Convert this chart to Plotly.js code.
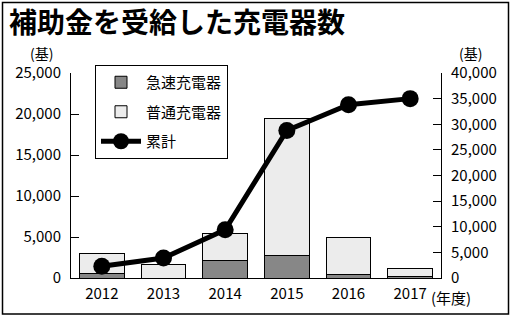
<!DOCTYPE html>
<html>
<head>
<meta charset="utf-8">
<script src="https://cdn.plot.ly/plotly-3.0.1.min.js"></script>
<style>html,body{margin:0;padding:0;background:#fff;}#chart{width:513px;height:316px;}</style>
</head>
<body>
<div id="chart"></div>
<script>
const years = ['2012', '2013', '2014', '2015', '2016', '2017'];
const quickChargers = [600, 0, 2150, 2800, 400, 150];
const normalChargers = [2400, 1600, 3250, 16600, 4550, 1050];
const cumulative = [2300, 3900, 9400, 28800, 33800, 35000];
const leftTicks = [0, 5000, 10000, 15000, 20000, 25000];
const rightTicks = [0, 5000, 10000, 15000, 20000, 25000, 30000, 35000, 40000];

const FONT = '"Noto Sans CJK JP", "Noto Sans", sans-serif';

const traces = [
  {
    type: 'bar', name: '急速充電器', x: years, y: quickChargers,
    marker: {color: '#878787', line: {color: '#000', width: 1}},
    width: 0.72, legendgroup: 'a', hoverinfo: 'skip'
  },
  {
    type: 'bar', name: '普通充電器', x: years, y: normalChargers,
    marker: {color: '#ececec', line: {color: '#000', width: 1}},
    width: 0.72, legendgroup: 'b', hoverinfo: 'skip'
  },
  {
    type: 'scatter', mode: 'lines+markers', name: '累計', x: years, y: cumulative,
    yaxis: 'y2', line: {color: '#000', width: 5},
    marker: {color: '#000', size: 17}, legendgroup: 'c', hoverinfo: 'skip'
  }
];

const layout = {
  width: 513, height: 316,
  margin: {l: 71, r: 72, t: 73, b: 38, pad: 0},
  paper_bgcolor: '#fff', plot_bgcolor: '#fff',
  font: {family: FONT, color: '#000', size: 15},
  barmode: 'stack',
  showlegend: true,
  title: {
    text: '<b>補助金を受給した充電器数</b>',
    font: {family: FONT, size: 28, color: '#000'},
    x: 9 / 513, xanchor: 'left', xref: 'container',
    y: 1 - 23 / 316, yanchor: 'middle', yref: 'container'
  },
  xaxis: {
    type: 'category', range: [-0.5, 5.5],
    showline: true, linecolor: '#000', linewidth: 1,
    ticks: '', showgrid: false, zeroline: false,
    tickfont: {size: 15, family: FONT, color: '#000'},
    ticklabelstandoff: 2
  },
  yaxis: {
    range: [0, 25000], tickvals: leftTicks, tickformat: ',d',
    showline: true, linecolor: '#000', linewidth: 1,
    ticks: 'inside', ticklen: 8, tickcolor: '#000', tickwidth: 1,
    showgrid: false, zeroline: false,
    tickfont: {size: 15, family: FONT, color: '#000'},
    ticklabelstandoff: 6
  },
  yaxis2: {
    range: [0, 40000], tickvals: rightTicks, tickformat: ',d',
    overlaying: 'y', side: 'right',
    showline: true, linecolor: '#000', linewidth: 1,
    ticks: 'inside', ticklen: 8, tickcolor: '#000', tickwidth: 1,
    showgrid: false, zeroline: false,
    tickfont: {size: 15, family: FONT, color: '#000'},
    ticklabelstandoff: 6
  },
  legend: {
    x: (95 - 71) / 370, y: (278 - 65) / 205, xanchor: 'left', yanchor: 'top',
    bgcolor: '#fff', bordercolor: '#000', borderwidth: 1,
    font: {size: 15, family: FONT, color: '#000'},
    traceorder: 'grouped', tracegroupgap: 7, itemwidth: 40
  },
  shapes: [
    {
      type: 'rect', xref: 'paper', yref: 'paper',
      x0: (2.5 - 71) / 370, x1: (508.5 - 71) / 370,
      y0: (278 - 314) / 205, y1: (278 - 2.5) / 205,
      line: {color: '#000', width: 1.5}, fillcolor: 'rgba(0,0,0,0)', layer: 'below'
    }
  ],
  annotations: [
    {text: '(基)', xref: 'paper', yref: 'paper', x: (41 - 71) / 370, y: (278 - 53) / 205,
     xanchor: 'center', yanchor: 'middle', showarrow: false, font: {size: 14, family: FONT, color: '#000'}},
    {text: '(基)', xref: 'paper', yref: 'paper', x: (470 - 71) / 370, y: (278 - 53) / 205,
     xanchor: 'center', yanchor: 'middle', showarrow: false, font: {size: 14, family: FONT, color: '#000'}},
    {text: '(年度)', xref: 'paper', yref: 'paper', x: (451 - 71) / 370, y: (278 - 297) / 205,
     xanchor: 'center', yanchor: 'middle', showarrow: false, font: {size: 15, family: FONT, color: '#000'}}
  ]
};

Plotly.newPlot('chart', traces, layout, {staticPlot: true, displayModeBar: false});
</script>
</body>
</html>
